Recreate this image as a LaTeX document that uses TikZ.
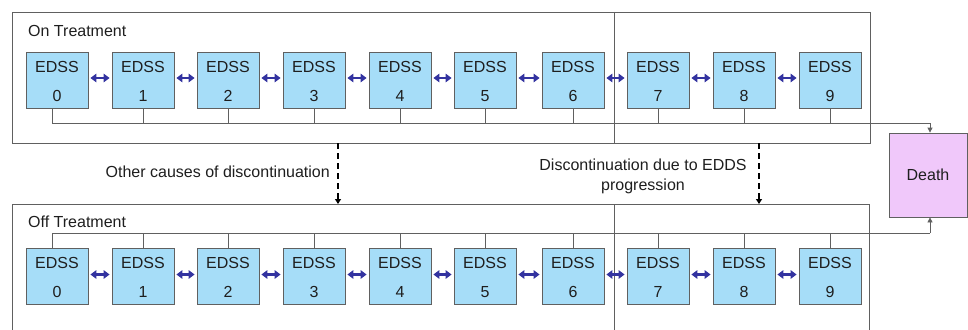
\documentclass[tikz,border=0pt]{standalone}
\usepackage{fontspec}
\setmainfont{Liberation Sans}
\usetikzlibrary{arrows.meta}
\definecolor{boxblue}{RGB}{166,221,248}
\definecolor{deathpink}{RGB}{240,200,250}
\definecolor{arrownavy}{RGB}{51,51,160}
\definecolor{edgegray}{RGB}{96,96,96}
\definecolor{textgray}{RGB}{30,30,30}
\tikzset{
  edss/.style={draw=edgegray, fill=boxblue, minimum width=62pt, minimum height=56pt, inner sep=0pt, line width=0.8pt},
  panel/.style={draw=edgegray, line width=0.8pt},
  conn/.style={draw=edgegray, line width=0.8pt},
  dbl/.style={arrownavy, line width=2.4pt, {Triangle[length=6pt,width=8.5pt]}-{Triangle[length=6pt,width=8.5pt]}},
  dashedarrow/.style={black, line width=1.6pt, dash pattern=on 6pt off 4pt, -{Triangle[length=5pt,width=6pt]}},
  toarrow/.style={conn, -{Triangle[length=5pt,width=5pt]}},
  txt/.style={font=\fontsize{16}{18}\selectfont, text=textgray, inner sep=0pt}
}
\begin{document}
\begin{tikzpicture}[x=1pt,y=-1pt]
\useasboundingbox (0,0) rectangle (968,329);
% panels
\draw[panel] (12,12) rectangle (870,143);
\draw[panel] (614,12) -- (614,143);
\draw[panel] (12,340) -- (12,204) -- (869,204) -- (869,340);
\draw[panel] (614,204) -- (614,340);
\node[txt, anchor=west] (ontitle) at (28,31) {On Treatment};
\node[txt, anchor=west] (offtitle) at (28,222) {Off Treatment};
% death
\node[draw=edgegray, fill=deathpink, line width=0.8pt, minimum width=78pt, minimum height=84pt, inner sep=0pt, txt] (death) at (928,175) {Death};
% boxes
\foreach \i/\x in {0/57,1/143,2/228,3/314,4/400,5/485,6/573,7/658,8/744,9/830}{
  \node[edss] (t\i) at (\x,80) {};
  \node[txt] (tl\i) at (\x,67) {EDSS};
  \node[txt] (tn\i) at (\x,96) {\i};
  \node[edss] (b\i) at (\x,276.5) {};
  \node[txt] (bl\i) at (\x,263) {EDSS};
  \node[txt] (bn\i) at (\x,292) {\i};
}
\foreach \a/\b in {0/1,1/2,2/3,3/4,4/5,5/6,6/7,7/8,8/9}{
  \draw[dbl] ([xshift=2pt,yshift=2pt]t\a.east) -- ([xshift=-2pt,yshift=2pt]t\b.west);
  \draw[dbl] ([xshift=2pt,yshift=2pt]b\a.east) -- ([xshift=-2pt,yshift=2pt]b\b.west);
}
% connectors to death
\coordinate (tj) at (930,123);
\coordinate (bj) at (930,233);
\draw[conn] ([xshift=-5pt]t0.south) |- (tj);
\draw[conn] ([xshift=-5pt]b0.north) |- (bj);
\foreach \i in {1,...,9}{
  \draw[conn] (t\i.south) -- (t\i.south |- tj);
  \draw[conn] (b\i.north) -- (b\i.north |- bj);
}
\draw[toarrow] (tj) -- (tj |- death.north);
\draw[toarrow] (bj) -- (bj |- death.south);
% dashed transitions
\coordinate (d1s) at (338,143);
\coordinate (d1e) at (338,204);
\coordinate (d2s) at (759,143);
\coordinate (d2e) at (759,204);
\draw[dashedarrow] (d1s) -- (d1e);
\draw[dashedarrow] (d2s) -- (d2e);
\node[txt, anchor=east] (lab1) at (330,172) {Other causes of discontinuation};
\node[txt, align=center] (lab2) at (643,176.5) {Discontinuation due to EDDS\\[2pt]progression};
\end{tikzpicture}
\end{document}
